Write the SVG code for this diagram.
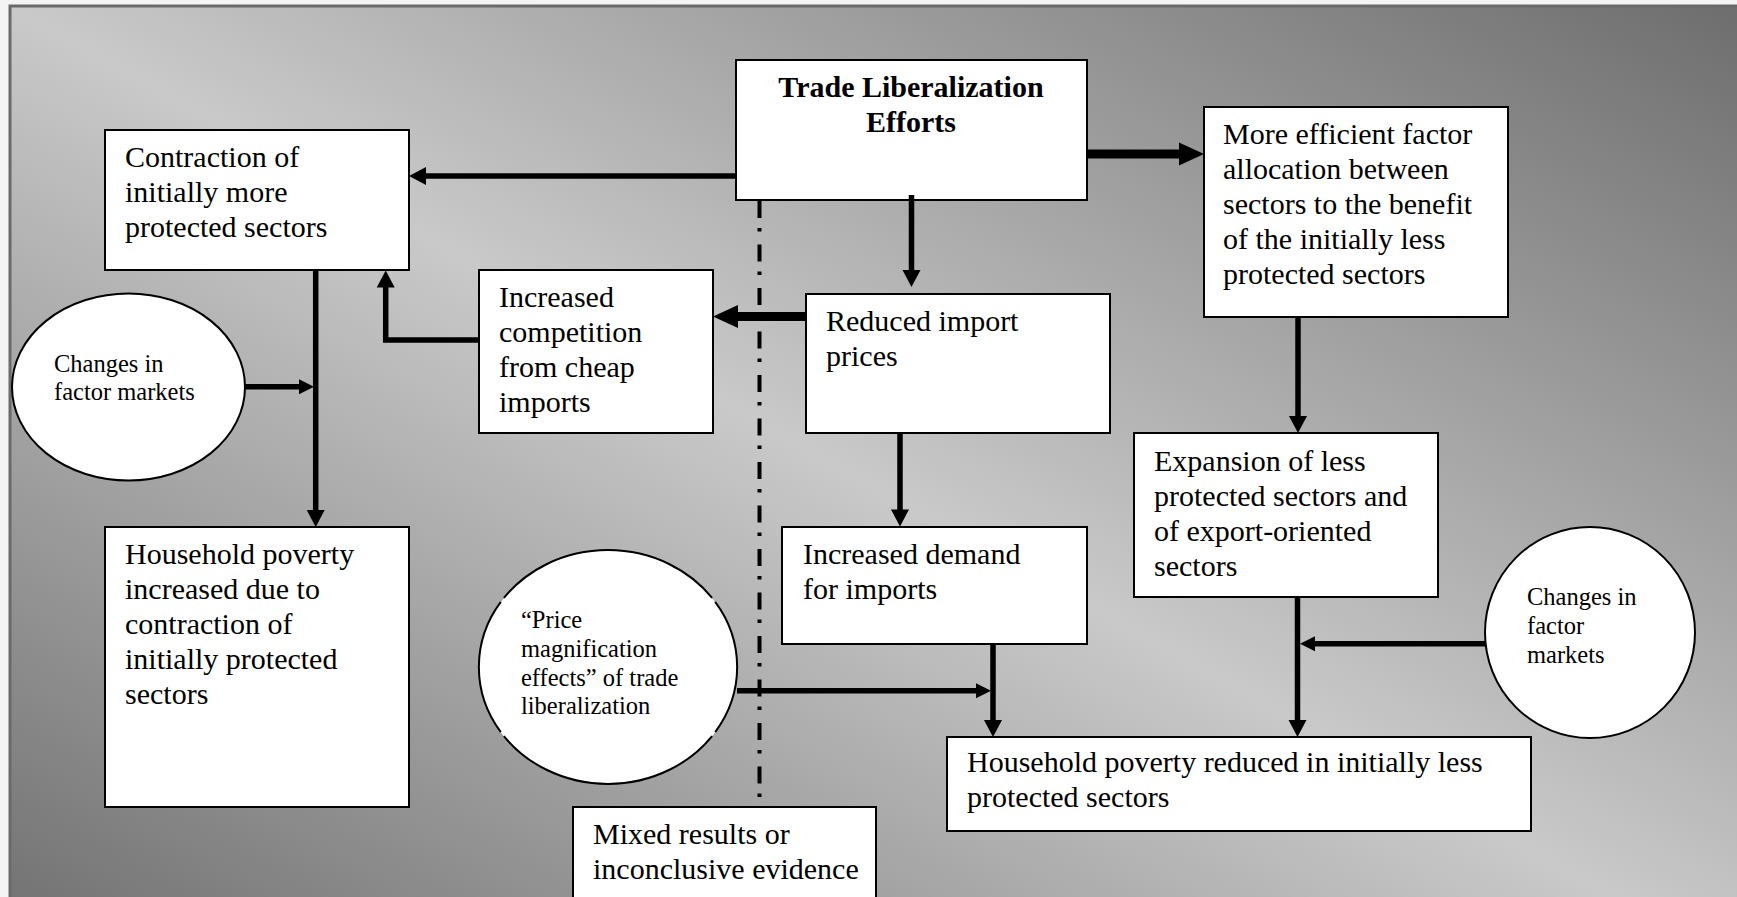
<svg xmlns="http://www.w3.org/2000/svg" width="1737" height="897" viewBox="0 0 1737 897">
<defs>
<linearGradient id="bg" x1="1" y1="0" x2="0" y2="1">
<stop offset="0" stop-color="#6a6a6a"/>
<stop offset="0.5" stop-color="#c9c9c9"/>
<stop offset="1" stop-color="#6a6a6a"/>
</linearGradient>
<marker id="ah" markerUnits="userSpaceOnUse" markerWidth="18" markerHeight="18" refX="1" refY="9" orient="auto" overflow="visible"><path d="M0,0 L17,9 L0,18 z" fill="#000"/></marker>
<marker id="ahL" markerUnits="userSpaceOnUse" markerWidth="25" markerHeight="23" refX="1" refY="11.5" orient="auto" overflow="visible"><path d="M0,0 L25,11.5 L0,23 z" fill="#000"/></marker>
<marker id="ahS" markerUnits="userSpaceOnUse" markerWidth="15" markerHeight="15" refX="1" refY="7.5" orient="auto" overflow="visible"><path d="M0,0 L15,7.5 L0,15 z" fill="#000"/></marker>
</defs>
<style>
.box{fill:#fff;stroke:#000;stroke-width:2}
.ell{fill:#fff;stroke:#000;stroke-width:2}
text{font-family:"Liberation Serif","Times New Roman",serif;font-size:30px;fill:#000}
.s{font-size:24.5px}
.b{font-weight:bold}
.c{fill:none;stroke:#000;stroke-width:5.5;stroke-linejoin:miter}
.ck{stroke-width:9}
.cd{fill:none;stroke:#000;stroke-width:4;stroke-dasharray:17 10 3.5 13}
</style>
<rect x="0" y="0" width="1737" height="897" fill="#f4f4f4"/>
<rect x="10" y="6" width="1800" height="1000" fill="url(#bg)" stroke="#6a6a6a" stroke-width="3"/>

<g id="trade-liberalization">
<rect class="box" x="736" y="60" width="351" height="140"/>
<text class="b" x="911" y="97" text-anchor="middle">Trade Liberalization</text>
<text class="b" x="911" y="132" text-anchor="middle">Efforts</text>
</g>
<g id="contraction">
<rect class="box" x="105" y="130" width="304" height="140"/>
<text x="125" y="167">Contraction of</text>
<text x="125" y="202">initially more</text>
<text x="125" y="237">protected sectors</text>
</g>
<g id="efficient-allocation">
<rect class="box" x="1204" y="107" width="304" height="210"/>
<text x="1223" y="144">More efficient factor</text>
<text x="1223" y="179">allocation between</text>
<text x="1223" y="214">sectors to the benefit</text>
<text x="1223" y="249">of the initially less</text>
<text x="1223" y="284">protected sectors</text>
</g>
<g id="increased-competition">
<rect class="box" x="479" y="270" width="234" height="163"/>
<text x="499" y="307">Increased</text>
<text x="499" y="342">competition</text>
<text x="499" y="377">from cheap</text>
<text x="499" y="412">imports</text>
</g>
<g id="reduced-import-prices">
<rect class="box" x="806" y="294" width="304" height="139"/>
<text x="826" y="331">Reduced import</text>
<text x="826" y="366">prices</text>
</g>
<g id="expansion">
<rect class="box" x="1134" y="433" width="304" height="164"/>
<text x="1154" y="471">Expansion of less</text>
<text x="1154" y="506">protected sectors and</text>
<text x="1154" y="541">of export-oriented</text>
<text x="1154" y="576">sectors</text>
</g>
<g id="increased-demand">
<rect class="box" x="782" y="527" width="305" height="117"/>
<text x="803" y="564">Increased demand</text>
<text x="803" y="599">for imports</text>
</g>
<g id="poverty-increased">
<rect class="box" x="105" y="527" width="304" height="280"/>
<text x="125" y="564">Household poverty</text>
<text x="125" y="599">increased due to</text>
<text x="125" y="634">contraction of</text>
<text x="125" y="669">initially protected</text>
<text x="125" y="704">sectors</text>
</g>
<g id="poverty-reduced">
<rect class="box" x="947" y="737" width="584" height="94"/>
<text x="967" y="772">Household poverty reduced in initially less</text>
<text x="967" y="807">protected sectors</text>
</g>
<g id="mixed-results">
<rect class="box" x="573" y="807" width="303" height="120"/>
<text x="593" y="844">Mixed results or</text>
<text x="593" y="879">inconclusive evidence</text>
</g>
<g id="factor-markets-left">
<ellipse class="ell" cx="128.5" cy="387" rx="116.5" ry="93.5"/>
<text class="s" x="54" y="372">Changes in</text>
<text class="s" x="54" y="400">factor markets</text>
</g>
<g id="price-magnification">
<ellipse cx="608" cy="667.3" rx="129" ry="116.7" fill="#fff"/>
<path d="M712.1,736.1 A129,116.7 0 0 1 503.9,736.1 M500.8,732.1 A129,116.7 0 0 1 500.8,601.9 M503.9,597.9 A129,116.7 0 0 1 712.1,597.9 M715.2,601.9 A129,116.7 0 0 1 715.2,732.1" fill="none" stroke="#000" stroke-width="2"/>
<text class="s" x="521" y="628">“Price</text>
<text class="s" x="521" y="657">magnification</text>
<text class="s" x="521" y="686">effects” of trade</text>
<text class="s" x="521" y="714">liberalization</text>
</g>
<g id="factor-markets-right">
<ellipse class="ell" cx="1590" cy="632.5" rx="105" ry="105.5"/>
<text class="s" x="1527" y="605">Changes in</text>
<text class="s" x="1527" y="634">factor</text>
<text class="s" x="1527" y="663">markets</text>
</g>

<g id="connectors">
<path class="cd" d="M759.5,201 V807"/>
<path class="c" d="M736,176 H425" marker-end="url(#ah)"/>
<path class="c" d="M911.5,195 V271" marker-end="url(#ah)"/>
<path class="c ck" d="M1087,154 H1180" marker-end="url(#ahL)"/>
<path class="c ck" d="M806,316.5 H737" marker-end="url(#ahL)"/>
<path class="c" d="M479,340 H385.7 V286.5" marker-end="url(#ah)"/>
<path class="c" d="M315.7,270 V511" marker-end="url(#ah)"/>
<path class="c" d="M245,386.7 H300" marker-end="url(#ahS)"/>
<path class="c" d="M900,433 V510.5" marker-end="url(#ah)"/>
<path class="c" d="M993,644 V721" marker-end="url(#ah)"/>
<path class="c" d="M737,690.7 H977" marker-end="url(#ahS)"/>
<path class="c" d="M1298,317 V417" marker-end="url(#ah)"/>
<path class="c" d="M1297.5,597 V721" marker-end="url(#ah)"/>
<path class="c" d="M1485,643.7 H1314" marker-end="url(#ahS)"/>
</g>
</svg>
